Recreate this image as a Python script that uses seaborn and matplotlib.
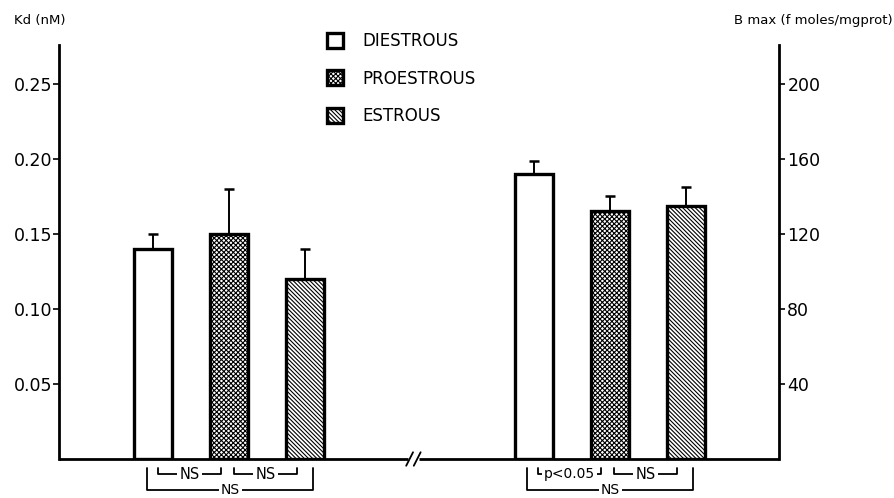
import matplotlib
matplotlib.use("Agg")
import matplotlib.pyplot as plt
from matplotlib.patches import Patch
import seaborn as sns
import numpy as np

# Oestrous-cycle phases
phases = ["DIESTROUS", "PROESTROUS", "ESTROUS"]

# Dissociation constant, Kd (nM): mean and SEM
kd_mean = [0.14, 0.15, 0.12]
kd_sem = [0.01, 0.03, 0.02]

# Receptor density, Bmax (fmoles/mg protein): mean and SEM
bmax_mean = [152, 132, 135]
bmax_sem = [7, 8, 10]

# Pairwise comparisons within each group: (bar i, bar j, label)
kd_tests = [(0, 1, "NS"), (1, 2, "NS"), (0, 2, "NS")]
bmax_tests = [(0, 1, "p<0.05"), (1, 2, "NS"), (0, 2, "NS")]

kd_ticks = [0.05, 0.10, 0.15, 0.20, 0.25]
bmax_ticks = [40, 80, 120, 160, 200]

sns.set_theme(style="white")
plt.rcParams["font.family"] = ["DejaVu Sans"]
plt.rcParams["text.color"] = "black"
plt.rcParams["hatch.linewidth"] = 0.8

hatches = ["", "xxxxxxx", "\\" * 8]
kd_x = np.array([0, 1, 2])
bmax_x = np.array([5, 6, 7])
scale = 800.0  # Bmax units per Kd unit on the twin axes
kd_top = 0.276

fig = plt.figure(figsize=(8.94, 4.98), dpi=100)
ax = fig.add_axes([59 / 894, 39 / 498, 720 / 894, 414 / 498])
ax2 = ax.twinx()

bar_kw = dict(width=0.5, native_scale=True, color="white", edgecolor="black",
              linewidth=2.4, errorbar=None)
sns.barplot(x=kd_x, y=kd_mean, ax=ax, **bar_kw)
sns.barplot(x=bmax_x, y=bmax_mean, ax=ax2, **bar_kw)
for axis in (ax, ax2):
    for patch, h in zip(axis.patches, hatches):
        patch.set_hatch(h)

# one-sided (upper) error bars
err_kw = dict(fmt="none", ecolor="black", elinewidth=1.4, capsize=3.5,
              capthick=1.8, zorder=1)
ax.errorbar(kd_x, kd_mean, yerr=[np.zeros(3), kd_sem], **err_kw)
ax2.errorbar(bmax_x, bmax_mean, yerr=[np.zeros(3), bmax_sem], **err_kw)

xlo, xhi = -1.243, 8.23
ax.set_xlim(xlo, xhi)
ax.set_ylim(0, kd_top)
ax2.set_ylim(0, kd_top * scale)

ax.set_xticks([])
ax2.set_xticks([])
ax.set_yticks(kd_ticks)
ax.set_yticklabels([f"{t:.2f}" for t in kd_ticks])
ax2.set_yticks(bmax_ticks)
ax2.set_yticklabels([str(t) for t in bmax_ticks])
ax.set_xlabel("")
ax.set_ylabel("")
ax2.set_ylabel("")

for a in (ax, ax2):
    for s in a.spines.values():
        s.set_visible(False)
ax.spines["left"].set_visible(True)
ax.spines["left"].set_linewidth(2.0)
ax.spines["left"].set_color("black")
ax2.spines["right"].set_visible(True)
ax2.spines["right"].set_linewidth(2.0)
ax2.spines["right"].set_color("black")
ax.tick_params(axis="y", direction="out", length=4, width=1.2, labelsize=12.5,
               pad=1, left=True, colors="black")
ax2.tick_params(axis="y", direction="out", length=4, width=1.2, labelsize=12.5,
                pad=2, right=True, colors="black")

# baseline with a break between the two groups
brk = 3.42
line_kw = dict(color="black", lw=2.0, clip_on=False, solid_capstyle="butt")
ax.plot([xlo, brk - 0.07], [0, 0], **line_kw)
ax.plot([brk + 0.07, xhi], [0, 0], **line_kw)
for dx in (-0.05, 0.05):
    ax.plot([brk + dx - 0.045, brk + dx + 0.045], [-0.0045, 0.0045],
            color="black", lw=1.3, clip_on=False)

# significance brackets below the bars
px = 1.0 / 1500.0  # Kd units per pixel
def bracket(x0, x1, y_tick, y_line, label, size):
    ax.plot([x0, x0, x1, x1], [y_tick, y_line, y_line, y_tick],
            color="black", lw=1.3, clip_on=False)
    ax.text((x0 + x1) / 2, y_line, label, ha="center", va="center",
            fontsize=size, clip_on=False, color="black",
            bbox=dict(boxstyle="square,pad=0.15", fc="white", ec="none"))

for xs, tests in ((kd_x, kd_tests), (bmax_x, bmax_tests)):
    for i, j, lab in tests:
        if j - i == 1:
            bracket(xs[i] + 0.06, xs[j] - 0.11, -9 * px, -15 * px, lab,
                    10.5 if lab == "NS" else 10)
        else:
            bracket(xs[i] - 0.08, xs[j] + 0.10, -9 * px, -31 * px, lab, 10)

# axis titles
fig.text(14 / 894, 1 - 20 / 498, "Kd (nM)", fontsize=9.5, ha="left", va="center")
fig.text(893 / 894, 1 - 20 / 498, "B max (f moles/mgprot)", fontsize=9.5,
         ha="right", va="center")

handles = [Patch(facecolor="white", edgecolor="black", linewidth=2.4, hatch=h)
           for h in hatches]
fig.legend(handles, phases, loc="upper left",
           bbox_to_anchor=(327 / 894, 1 - 32 / 498), frameon=False,
           fontsize=12, handlelength=0.95, handleheight=1.0,
           handletextpad=1.15, labelspacing=1.18, borderpad=0, borderaxespad=0,
           labelcolor="black")

fig.savefig("out.png", dpi=100)
